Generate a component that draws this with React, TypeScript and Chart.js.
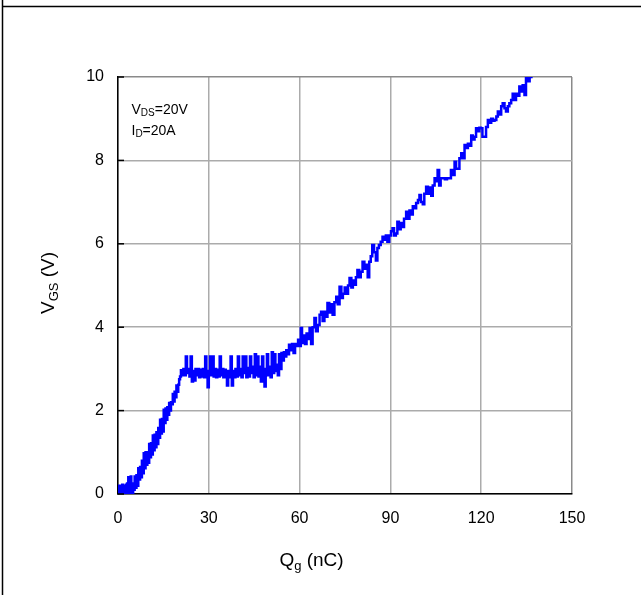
import { useEffect, useRef } from "react";
import { Chart, registerables } from "chart.js";

Chart.register(...registerables);

// Gate charge Qg (nC) and gate-source voltage VGS (V)
const qValues = [
  // near 0
  0, 0.2, 0.4, 0.6, 0.8, 1.0, 1.2, 1.4, 1.6, 1.8, 2.0, 2.2, 2.4, 2.6, 2.8, 3.0, 3.2, 3.4, 3.6, 3.8, 4.0, 4.2, 4.4, 4.6, 4.8, 5.0, 5.2,
  // first rise
  5.5, 5.8, 6.1, 6.4, 6.7, 7.0, 7.3, 7.6, 7.9, 8.2, 8.5, 8.8, 9.1, 9.4, 9.7, 10.0, 10.3, 10.6, 10.9, 11.2, 11.5, 11.8, 12.1, 12.4,
  12.7, 13.0, 13.3, 13.6, 13.9, 14.2, 14.5, 14.8, 15.1, 15.4, 15.7, 16.0, 16.3, 16.6, 16.9, 17.2, 17.5, 17.8, 18.1, 18.4, 18.7, 19.0,
  19.3, 19.6, 19.9, 20.2, 20.5, 20.8,
  // plateau
  21.2, 21.6, 22.0, 22.4, 22.8, 23.2, 23.6, 24.0, 24.4, 24.8, 25.2, 25.6, 26.0, 26.4, 26.8, 27.2, 27.6, 28.0, 28.4, 28.8, 29.2, 29.6,
  30.0, 30.4, 30.8, 31.2, 31.6, 32.0, 32.4, 32.8, 33.2, 33.6, 34.0, 34.4, 34.8, 35.2, 35.6, 36.0, 36.4, 36.8, 37.2, 37.6, 38.0, 38.4,
  38.8, 39.2, 39.6, 40.0, 40.4, 40.8, 41.2, 41.6, 42.0, 42.4, 42.8, 43.2, 43.6, 44.0, 44.4, 44.8, 45.2, 45.6, 46.0, 46.4, 46.8, 47.2,
  47.6, 48.0, 48.4, 48.8, 49.2, 49.6, 50.0, 50.4, 50.8, 51.2, 51.6, 52.0, 52.4, 52.8, 53.2, 53.6, 54.0, 54.4, 54.8,
  // second rise
  55.2, 55.6, 56.0, 56.5, 57.0, 57.5, 58.0, 58.5, 59.0, 59.5, 60.0, 60.4, 60.8, 61.3, 61.8, 62.3, 62.8, 63.3, 63.8, 64.3, 64.9, 65.4,
  66.0, 66.6, 67.1, 67.6, 68.2, 68.7, 69.2, 69.8, 70.4, 70.9, 71.5, 72.1, 72.6, 73.2, 73.8, 74.3, 74.9, 75.4, 76.0, 76.5, 77.1, 77.6,
  78.1, 78.6, 79.1, 79.7, 80.2, 80.8, 81.4, 82.0, 82.5, 83.0, 83.5, 84.0, 84.6, 85.2, 85.7, 86.2, 86.8, 87.4, 88.0, 88.5, 89.0, 89.6,
  90.2, 90.7, 91.2, 91.8, 92.3, 92.8, 93.4, 93.9, 94.5, 95.2, 95.8, 96.3, 96.8, 97.4, 98.0, 98.5, 99.1, 99.6, 100.1, 100.7, 101.2,
  101.8, 102.4, 103.0, 103.5, 104.0, 104.6, 105.1, 105.6, 106.1, 106.6, 107.3, 108.0, 108.7, 109.5, 110.0, 110.6, 111.2, 111.7,
  112.2, 112.8, 113.4, 113.9, 114.5, 115.0, 115.6, 116.1, 116.7, 117.2, 117.8, 118.3, 118.9, 119.4, 119.9, 120.4, 121.0, 121.6,
  122.2, 122.8, 123.3, 123.9, 124.4, 125.0, 125.5, 126.1, 126.6, 127.1, 127.7, 128.2, 128.8, 129.3, 129.9, 130.4, 131.0, 131.5,
  132.0, 132.6, 133.2, 133.7, 134.3, 134.8, 135.4, 136.0, 137.0,
];

const vgsValues = [
  // near 0
  0, 0.2, 0, 0.2, 0.02, 0.2, 0, 0.22, 0.02, 0.2, 0, 0.2, 0.05, 0.22, 0, 0.25, 0.02, 0.4, 0.05, 0.22, 0, 0.42, 0.05, 0.25, 0, 0.2, 0.1,
  // first rise
  0.42, 0.15, 0.45, 0.2, 0.62, 0.35, 0.65, 0.4, 0.8, 0.5, 0.98, 0.62, 1.0, 0.7, 1.0, 0.75, 1.2, 0.88, 1.22, 0.95, 1.4, 1.05, 1.42, 1.12,
  1.48, 1.2, 1.58, 1.35, 1.78, 1.45, 1.8, 1.5, 2.02, 1.7, 2.05, 1.78, 2.08, 1.9, 2.18, 2.0, 2.2, 2.15, 2.4, 2.22, 2.45, 2.32,
  2.6, 2.45, 2.62, 2.75, 2.82, 2.97,
  // plateau
  2.85, 3.0, 2.85, 3.3, 2.9, 3.0, 2.82, 3.3, 2.7, 2.95, 2.72, 3.0, 2.85, 3.0, 2.8, 2.98, 2.82, 3.0, 2.8, 3.3, 2.85, 2.56,
  2.95, 3.3, 2.85, 3.3, 2.82, 3.0, 2.8, 2.98, 2.82, 3.3, 2.85, 3.0, 2.8, 2.98, 2.85, 2.6, 2.95, 2.8, 3.3, 2.6, 2.95, 2.8,
  3.0, 2.82, 3.3, 2.85, 3.0, 2.8, 3.3, 2.9, 3.3, 2.8, 3.02, 2.82, 3.3, 2.9, 3.05, 2.8, 3.35, 2.85, 3.3, 2.82, 3.05, 2.7,
  3.3, 2.85, 2.58, 3.0, 3.35, 2.85, 3.05, 2.8, 3.4, 2.9, 3.35, 2.95, 3.1, 2.85, 3.35, 3.0, 3.38, 3.2, 3.4,
  // second rise
  3.3, 3.45, 3.35, 3.58, 3.45, 3.6, 3.38, 3.6, 3.55, 3.7, 3.55, 3.98, 3.62, 3.8, 3.6, 3.85, 3.72, 3.98, 3.6, 4.0, 4.22, 3.9,
  4.05, 4.3, 4.37, 4.15, 4.37, 4.25, 4.58, 4.35, 4.55, 4.3, 4.6, 4.73, 4.55, 4.97, 4.7, 4.8, 4.95, 4.8, 5.0, 5.18, 4.95, 5.12,
  5.02, 5.2, 5.37, 5.2, 5.33, 5.57, 5.4, 5.5, 5.2, 5.57, 5.7, 5.97, 5.8, 5.6, 5.9, 5.97, 6.05, 6.17, 6.1, 6.2, 6.05, 6.2,
  6.3, 6.37, 6.2, 6.25, 6.53, 6.35, 6.5, 6.4, 6.6, 6.77, 6.6, 6.8, 6.7, 6.9, 6.85, 6.98, 7.05, 7.17, 7.0, 6.95, 7.2,
  7.37, 7.2, 7.35, 7.15, 7.4, 7.57, 7.5, 7.77, 7.4, 7.57, 7.57, 7.55, 7.57, 7.57, 7.77, 7.65, 7.97, 7.8,
  7.8, 8.05, 8.17, 8.05, 8.37, 8.3, 8.4, 8.35, 8.6, 8.5, 8.57, 8.77, 8.7, 8.78, 8.77, 8.57, 8.57, 8.8,
  8.97, 8.9, 9.0, 8.95, 8.97, 9.05, 9.17, 9.1, 9.3, 9.37, 9.25, 9.17, 9.3, 9.37, 9.45, 9.6, 9.45, 9.6,
  9.55, 9.77, 9.65, 9.8, 9.57, 10.0, 9.9, 10.0, 10.0,
];

const xTickValues = [0, 30, 60, 90, 120, 150];
const yTickValues = [0, 2, 4, 6, 8, 10];

const FONT = "'Liberation Sans', Arial, sans-serif";

type Part = { text: string; size: number; shift: number };

function drawParts(ctx: CanvasRenderingContext2D, parts: Part[], x: number, y: number, align: "left" | "center") {
  ctx.textBaseline = "alphabetic";
  ctx.textAlign = "left";
  const widths = parts.map((p) => {
    ctx.font = `${p.size}px ${FONT}`;
    return ctx.measureText(p.text).width;
  });
  const total = widths.reduce((a, b) => a + b, 0);
  let cx = align === "center" ? x - total / 2 : x;
  parts.forEach((p, i) => {
    ctx.font = `${p.size}px ${FONT}`;
    ctx.fillText(p.text, cx, y + p.shift);
    cx += widths[i];
  });
}

const overlayPlugin = {
  id: "overlay",
  afterDraw(chart: any) {
    const ctx: CanvasRenderingContext2D = chart.ctx;
    const { left } = chart.chartArea;
    const yScale = chart.scales.y;
    ctx.save();
    // inward y ticks
    ctx.strokeStyle = "#000";
    ctx.lineWidth = 1.5;
    yTickValues.forEach((v) => {
      const py = yScale.getPixelForValue(v);
      ctx.beginPath();
      ctx.moveTo(left, py);
      ctx.lineTo(left + 6, py);
      ctx.stroke();
    });
    // page frame
    ctx.lineWidth = 1.5;
    ctx.beginPath();
    ctx.moveTo(2.5, 0);
    ctx.lineTo(2.5, 595);
    ctx.moveTo(2, 6.5);
    ctx.lineTo(641, 6.5);
    ctx.stroke();

    ctx.fillStyle = "#000";
    // annotation
    drawParts(ctx, [
      { text: "V", size: 14, shift: 0 },
      { text: "DS", size: 10, shift: 2 },
      { text: "=20V", size: 14, shift: 0 },
    ], 131.5, 113.5, "left");
    drawParts(ctx, [
      { text: "I", size: 14, shift: 0 },
      { text: "D", size: 10, shift: 2 },
      { text: "=20A", size: 14, shift: 0 },
    ], 131.5, 134.5, "left");

    // x title
    drawParts(ctx, [
      { text: "Q", size: 19, shift: 0 },
      { text: "g", size: 13, shift: 4 },
      { text: " (nC)", size: 19, shift: 0 },
    ], 311.5, 566, "center");

    // y title
    ctx.translate(53.5, 283);
    ctx.rotate(-Math.PI / 2);
    drawParts(ctx, [
      { text: "V", size: 19, shift: 0 },
      { text: "GS", size: 13, shift: 4 },
      { text: " (V)", size: 19, shift: 0 },
    ], 0, 0, "center");
    ctx.restore();
  },
};

export default function App() {
  const ref = useRef<HTMLCanvasElement | null>(null);

  useEffect(() => {
    if (!ref.current) return;
    const points = qValues.map((q, i) => ({ x: q, y: vgsValues[i] }));
    const chart = new Chart(ref.current, {
      type: "line",
      data: {
        datasets: [
          {
            data: points,
            borderColor: "#0000ff",
            borderWidth: 2.5,
            pointRadius: 0,
            stepped: true,
            fill: false,
          },
        ],
      },
      options: {
        animation: false,
        responsive: false,
        devicePixelRatio: 1,
        layout: { padding: { left: 0, top: 77, right: 69, bottom: 0 } },
        plugins: { legend: { display: false }, tooltip: { enabled: false } },
        scales: {
          x: {
            type: "linear",
            min: 0,
            max: 150,
            afterBuildTicks: (s: any) => {
              s.ticks = xTickValues.map((v) => ({ value: v }));
            },
            afterFit: (s: any) => {
              s.height = 101;
            },
            grid: {
              drawTicks: false,
              lineWidth: 1.5,
              color: (c: any) => (c.tick && c.tick.value === 150 ? "#8a8a8a" : "#ababab"),
            },
            border: { color: "#000", width: 1.5 },
            ticks: {
              padding: 15,
              color: "#000",
              font: { family: FONT, size: 16 },
              maxRotation: 0,
            },
          },
          y: {
            type: "linear",
            min: 0,
            max: 10,
            afterBuildTicks: (s: any) => {
              s.ticks = yTickValues.map((v) => ({ value: v }));
            },
            afterFit: (s: any) => {
              s.width = 118;
            },
            grid: {
              drawTicks: false,
              lineWidth: 1.5,
              color: (c: any) => (c.tick && c.tick.value === 10 ? "#8a8a8a" : "#ababab"),
            },
            border: { color: "#000", width: 1.5 },
            ticks: {
              padding: 14,
              color: "#000",
              font: { family: FONT, size: 16 },
            },
          },
        },
      },
      plugins: [overlayPlugin],
    });
    return () => chart.destroy();
  }, []);

  return (
    <div style={{ position: "fixed", left: 0, top: 0, width: 641, height: 595, background: "#fff" }}>
      <canvas ref={ref} width={641} height={595} style={{ width: 641, height: 595, display: "block" }} />
    </div>
  );
}
